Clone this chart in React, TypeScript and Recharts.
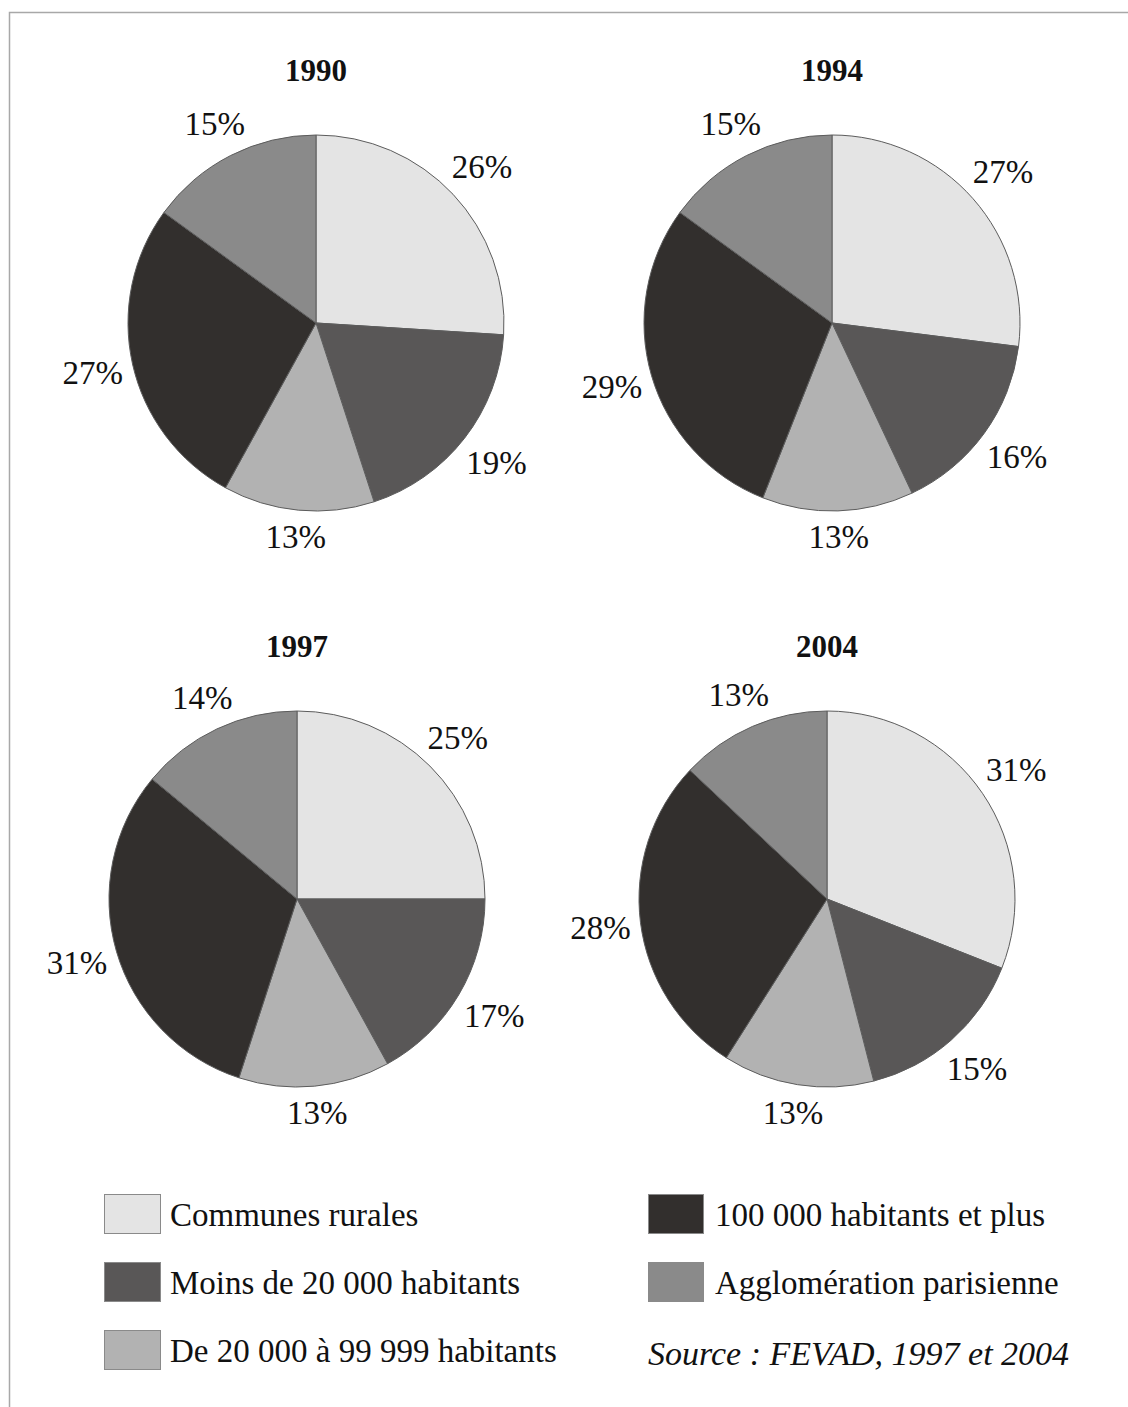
import React from 'react';
import { PieChart, Pie, Cell } from 'recharts';

const categories = [
  'Communes rurales',
  'Moins de 20 000 habitants',
  'De 20 000 à 99 999 habitants',
  '100 000 habitants et plus',
  'Agglomération parisienne',
];
const colors = ['#e4e4e4', '#595757', '#b2b2b2', '#322f2d', '#8a8a8a'];

const years = ['1990', '1994', '1997', '2004'];
const values1990 = [26, 19, 13, 27, 15];
const values1994 = [27, 16, 13, 29, 15];
const values1997 = [25, 17, 13, 31, 14];
const values2004 = [31, 15, 13, 28, 13];
const allValues = [values1990, values1994, values1997, values2004];

const sourceText = 'Source : FEVAD, 1997 et 2004';

const FONT = '"Liberation Serif", "Times New Roman", serif';
const R = 188;
const centers = [
  { x: 316, y: 323 },
  { x: 832, y: 323 },
  { x: 297, y: 899 },
  { x: 827, y: 899 },
];

const RAD = Math.PI / 180;

function renderLabel(props: any) {
  const { cx, cy, midAngle, outerRadius, value } = props;
  const c = Math.abs(Math.cos(midAngle * RAD));
  const s = Math.abs(Math.sin(midAngle * RAD));
  const r = outerRadius + 14 + 25 * c + 11 * s;
  const x = cx + r * Math.cos(-midAngle * RAD);
  const y = cy + r * Math.sin(-midAngle * RAD);
  return (
    <text
      x={x}
      y={y}
      textAnchor="middle"
      dominantBaseline="central"
      fontFamily={FONT}
      fontSize={33}
      fill="#111"
    >
      {`${value}%`}
    </text>
  );
}

export default function App() {
  const pies = allValues.map((vals) =>
    categories.map((name, i) => ({ name, value: vals[i] }))
  );

  const legendLeft = [0, 1, 2];
  const legendRight = [3, 4];
  const rowY = [1194, 1262, 1330];

  return (
    <div
      style={{
        position: 'absolute',
        left: 0,
        top: 0,
        width: 1128,
        height: 1407,
        background: '#fff',
        overflow: 'hidden',
      }}
    >
      <PieChart
        width={1128}
        height={1407}
        margin={{ top: 0, right: 0, bottom: 0, left: 0 }}
        style={{ position: 'absolute', left: 0, top: 0 }}
      >
        {pies.map((data, k) => (
          <Pie
            key={years[k]}
            data={data}
            dataKey="value"
            nameKey="name"
            cx={centers[k].x}
            cy={centers[k].y}
            outerRadius={R}
            startAngle={90}
            endAngle={-270}
            stroke="#5c5c5c"
            strokeWidth={1}
            label={renderLabel}
            labelLine={false}
            isAnimationActive={false}
          >
            {data.map((d, i) => (
              <Cell key={d.name} fill={colors[i]} />
            ))}
          </Pie>
        ))}
      </PieChart>
      <svg
        width={1128}
        height={1407}
        style={{ position: 'absolute', left: 0, top: 0, pointerEvents: 'none' }}
      >
        <rect x={9.5} y={12.5} width={1130} height={1410} fill="none" stroke="#a8a8a8" strokeWidth={1.5} />
        {years.map((yr, k) => (
          <text
            key={yr}
            x={centers[k].x}
            y={centers[k].y - R - 54}
            textAnchor="middle"
            fontFamily={FONT}
            fontWeight="bold"
            fontSize={31}
            fill="#111"
          >
            {yr}
          </text>
        ))}
        {legendLeft.map((i, row) => (
          <g key={categories[i]}>
            <rect x={104.5} y={rowY[row] + 0.5} width={56} height={39} fill={colors[i]} stroke="#8a8a8a" />
            <text x={170} y={rowY[row] + 32} fontFamily={FONT} fontSize={33} fill="#111">
              {categories[i]}
            </text>
          </g>
        ))}
        {legendRight.map((i, row) => (
          <g key={categories[i]}>
            <rect x={648.5} y={rowY[row] + 0.5} width={55} height={39} fill={colors[i]} stroke="#8a8a8a" />
            <text x={715} y={rowY[row] + 32} fontFamily={FONT} fontSize={33} fill="#111">
              {categories[i]}
            </text>
          </g>
        ))}
        <text x={648} y={1365} fontFamily={FONT} fontStyle="italic" fontSize={34} fill="#111">
          {sourceText}
        </text>
      </svg>
    </div>
  );
}
